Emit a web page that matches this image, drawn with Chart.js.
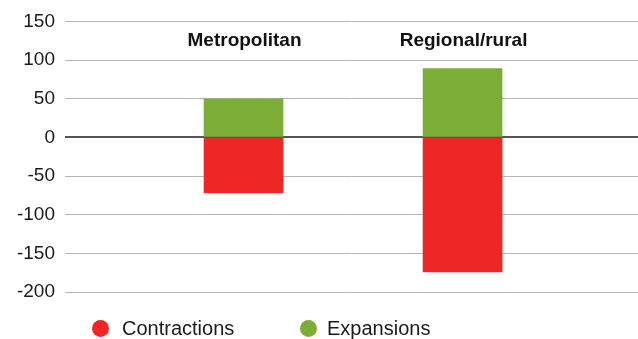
<!DOCTYPE html>
<html>
<head>
<meta charset="utf-8">
<script src="https://cdn.jsdelivr.net/npm/chart.js@4.4.1/dist/chart.umd.min.js"></script>
<style>
    html, body { margin: 0; padding: 0; background: #fff; }
    #wrap { position: relative; width: 638px; height: 339px; }
    #legend { position: absolute; left: 0; top: 317px; font-family: "Liberation Sans", Arial, sans-serif; font-size: 20px; color: #1a1a1a; }
    .item { position: absolute; top: 0; white-space: nowrap; line-height: 23px; }
    .dot { position: absolute; top: 3px; width: 17px; height: 17px; border-radius: 50%; }
</style>
</head>
<body>
<div id="wrap">
    <canvas id="myChart" width="638" height="339"></canvas>
    <div id="legend"></div>
</div>
<script>
// datos
const categories = ['Metropolitan', 'Regional/rural'];
const categoryPos = [1, 2];
const contractions = [-72, -174];
const expansions = [50, 89];
const yTicks = [150, 100, 50, 0, -50, -100, -150, -200];

const colorRed = '#EE2626';
const colorGreen = '#7BAD37';

const canvas = document.getElementById('myChart');
const ctx = canvas.getContext('2d');

// etiquetas de categoria dentro del area del grafico
const categoryLabels = {
    id: 'categoryLabels',
    afterDatasetsDraw(chart) {
        const c = chart.ctx;
        const xs = chart.scales.x;
        const ys = chart.scales.y;
        c.save();
        c.font = 'bold 19px "Liberation Sans", Arial, sans-serif';
        c.fillStyle = '#111';
        c.textAlign = 'center';
        c.textBaseline = 'middle';
        categories.forEach((label, i) => {
            c.fillText(label, xs.getPixelForValue(categoryPos[i]) + 1, ys.getPixelForValue(125));
        });
        c.restore();
    }
};

const chart = new Chart(ctx, {
    type: 'bar',
    data: {
        datasets: [
            {
                label: 'Contractions',
                data: categoryPos.map((x, i) => ({ x: x, y: contractions[i] })),
                backgroundColor: colorRed
            },
            {
                label: 'Expansions',
                data: categoryPos.map((x, i) => ({ x: x, y: expansions[i] })),
                backgroundColor: colorGreen
            }
        ]
    },
    options: {
        responsive: false,
        animation: false,
        barThickness: 79,
        layout: { padding: { top: 10, right: 0, bottom: 47, left: 0 } },
        scales: {
            x: {
                type: 'linear',
                display: false,
                offset: false,
                stacked: true,
                min: 0.185,
                max: 2.801
            },
            y: {
                stacked: true,
                min: -200,
                max: 150,
                afterBuildTicks: axis => { axis.ticks = yTicks.map(v => ({ value: v })); },
                afterFit: axis => { axis.width = 65; },
                border: { display: false },
                grid: {
                    drawTicks: false,
                    color: ctx => ctx.tick && ctx.tick.value === 0 ? '#555' : '#b5b5b5',
                    lineWidth: ctx => ctx.tick && ctx.tick.value === 0 ? 2 : 1
                },
                ticks: {
                    padding: 10,
                    color: '#1a1a1a',
                    font: { family: '"Liberation Sans", Arial, sans-serif', size: 19 }
                }
            }
        },
        plugins: {
            legend: { display: false },
            tooltip: { enabled: false }
        }
    },
    plugins: [categoryLabels]
});

// leyenda html
const legendPos = [{ dot: 92, text: 122 }, { dot: 300, text: 327 }];
const legend = document.getElementById('legend');
chart.data.datasets.forEach((ds, i) => {
    const dot = document.createElement('span');
    dot.className = 'dot';
    dot.style.left = legendPos[i].dot + 'px';
    dot.style.background = ds.backgroundColor;
    const txt = document.createElement('span');
    txt.className = 'item';
    txt.style.left = legendPos[i].text + 'px';
    txt.textContent = ds.label;
    legend.appendChild(dot);
    legend.appendChild(txt);
});
</script>
</body>
</html>
